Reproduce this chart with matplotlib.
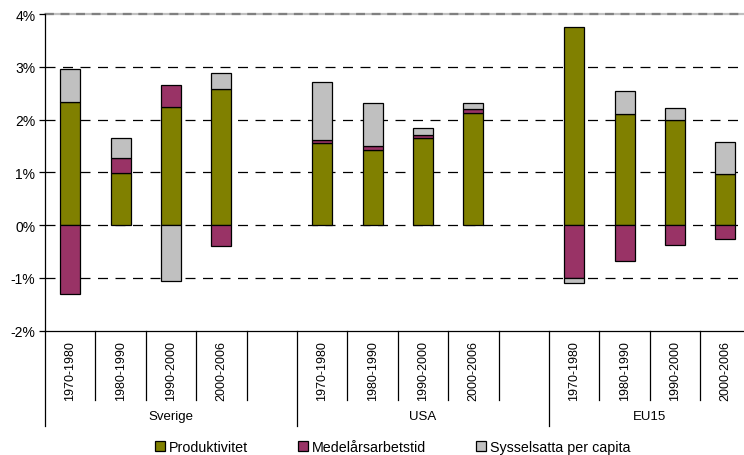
import numpy as np
import matplotlib
matplotlib.use("Agg")
import matplotlib.pyplot as plt
from matplotlib.patches import Patch

plt.rcParams['font.family'] = ['Liberation Sans', 'DejaVu Sans']

# data (procent per år)
regions = ['Sverige', 'USA', 'EU15']
periods = ['1970-1980', '1980-1990', '1990-2000', '2000-2006']
series_names = ['Produktivitet', 'Medelårsarbetstid', 'Sysselsatta per capita']
produktivitet = [2.34, 0.98, 2.24, 2.57, 1.55, 1.42, 1.65, 2.13, 3.75, 2.11, 2.00, 0.97]
medelarsarbetstid = [-1.31, 0.29, 0.41, -0.39, 0.07, 0.07, 0.06, 0.06, -1.01, -0.69, -0.37, -0.26]
sysselsatta = [0.61, 0.38, -1.07, 0.32, 1.10, 0.83, 0.13, 0.12, -0.09, 0.43, 0.22, 0.60]
colors = ['#808000', '#993366', '#C0C0C0']

# x positions: 4 bars per region, one blank slot between regions
xpos = []
for g in range(len(regions)):
    for p in range(len(periods)):
        xpos.append(g * (len(periods) + 1) + p)
xpos = np.array(xpos, dtype=float)

fig = plt.figure(figsize=(7.44, 4.56), dpi=100)
ax = fig.add_axes([45/744, 124.5/456, 705.6/744, 316.5/456])

pos_base = np.zeros(len(xpos))
neg_base = np.zeros(len(xpos))
for vals, c in zip([produktivitet, medelarsarbetstid, sysselsatta], colors):
    v = np.array(vals)
    bottom = np.where(v >= 0, pos_base, neg_base)
    ax.bar(xpos, v, 0.4, bottom=bottom, color=c, edgecolor='black', linewidth=0.9, zorder=3)
    pos_base = np.where(v >= 0, pos_base + v, pos_base)
    neg_base = np.where(v < 0, neg_base + v, neg_base)

ax.set_xlim(-0.5, 13.5)
ax.set_ylim(-2, 4)
ax.set_yticks(range(-2, 5))
ax.set_yticklabels([f'{t}%' for t in range(-2, 5)], fontsize=10)
ax.tick_params(axis='y', length=4, width=0.9, pad=3)
ax.set_xticks([])

for t in range(-1, 4):
    ax.axhline(t, color='black', lw=0.9, ls=(0, (8, 6)), zorder=1)
ax.axhline(4, color='#c0c0c0', lw=1.6, zorder=1, clip_on=False)
ax.axhline(4, color='#808080', lw=1.6, ls=(0, (4, 3)), zorder=1, clip_on=False)

for s in ['top', 'right']:
    ax.spines[s].set_visible(False)
ax.spines['left'].set_linewidth(0.9)
ax.spines['bottom'].set_linewidth(0.9)

# category axis lines and labels below
trans = ax.get_xaxis_transform()
short = -69/316.5
long_ = -95/316.5
for k in range(14):
    edge = k - 0.5
    y1 = long_ if edge in (-0.5, 4.5, 9.5) else short
    ax.plot([edge, edge], [0, y1], color='black', lw=0.9, transform=trans, clip_on=False)

for x, g in zip(xpos, range(len(xpos))):
    ax.text(x, -10/316.5, periods[g % 4], rotation=90, ha='center', va='top',
            fontsize=9, transform=trans)

group_centers = [2.0, 7.0, 11.5]
for xc, r in zip(group_centers, regions):
    ax.text(xc, -86/316.5, r, ha='center', va='center', fontsize=9.5, transform=trans)

handles = [Patch(facecolor=c, edgecolor='black', linewidth=0.9) for c in colors]
fig.legend(handles, series_names, loc='center', bbox_to_anchor=(0.528, 0.018),
           ncol=3, frameon=False, fontsize=10.3, handlelength=0.7, handleheight=0.7,
           handletextpad=0.25, columnspacing=3.5, borderpad=0)

fig.savefig('out.png', dpi=100)
